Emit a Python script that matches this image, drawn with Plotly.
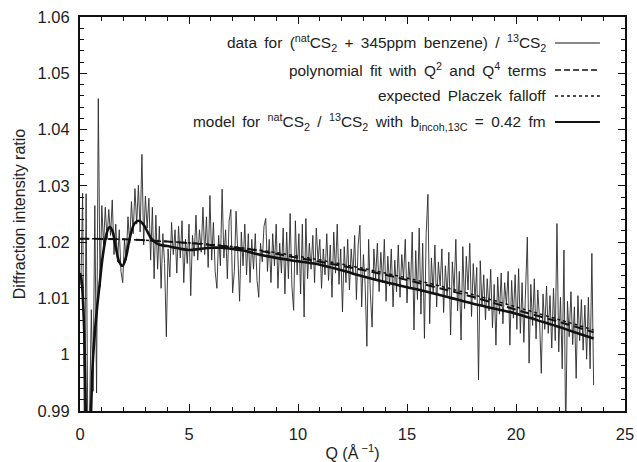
"""Diffraction intensity ratio vs Q, natCS2 / 13CS2."""
import numpy as np
import plotly.graph_objects as go

# measured ratio, sampled every 0.08 1/A from Q = 0.04 to 23.56
ratio_data = [
    1.0125, 1.0287, 0.9850, 1.0286, 0.9850, 0.9900, 1.0080, 0.9935, 1.0265, 0.9932, 1.0455, 1.0120, 1.0265,
    1.0195, 1.0262, 1.0205, 1.0258, 1.0212, 1.0275, 1.0178, 1.0232, 1.0165, 1.0222, 1.0148, 1.0128,
    1.0205, 1.0168, 1.0245, 1.0198, 1.0272, 1.0215, 1.0295, 1.0232, 1.0301, 1.0218, 1.0356, 1.0195, 1.0282,
    1.0225, 1.0278, 1.0168, 1.0262, 1.0135, 1.0248, 1.0152, 1.0228, 1.0118, 1.0215, 1.0162, 1.0032,
    1.0188, 1.0138, 1.0235, 1.0178, 1.0222, 1.0145, 1.0228, 1.0172, 1.0238, 1.0128, 1.0205, 1.0162, 1.0232,
    1.0105, 1.0212, 1.0175, 1.0248, 1.0168, 1.0222, 1.0182, 1.0262, 1.0178, 1.0245, 1.0155, 1.0283,
    1.0168, 1.0235, 1.0148, 1.0118, 1.0212, 1.0158, 1.0294, 1.0172, 1.0222, 1.0135, 1.0238, 1.0258, 1.0110,
    1.0148, 1.0255, 1.0178, 1.0095, 1.0218, 1.0158, 1.0232, 1.0142, 1.0215, 1.0128, 1.0205, 1.0152,
    1.0215, 1.0132, 1.0102, 1.0198, 1.0165, 1.0228, 1.0242, 1.0148, 1.0205, 1.0128, 1.0215, 1.0158, 1.0232,
    1.0118, 1.0198, 1.0145, 1.0225, 1.0108, 1.0218, 1.0135, 1.0251, 1.0122, 1.0079, 1.0238, 1.0142,
    1.0215, 1.0108, 1.0232, 1.0067, 1.0242, 1.0135, 1.0198, 1.0152, 1.0212, 1.0128, 1.0225, 1.0165, 1.0205,
    1.0118, 1.0188, 1.0142, 1.0215, 1.0132, 1.0195, 1.0102, 1.0218, 1.0145, 1.0232, 1.0125, 1.0188,
    1.0076, 1.0192, 1.0128, 1.0205, 1.0115, 1.0188, 1.0142, 1.0212, 1.0098, 1.0195, 1.0230, 1.0085, 1.0178,
    1.0125, 1.0015, 1.0205, 1.0108, 1.0049, 1.0188, 1.0135, 1.0198, 1.0112, 1.0182, 1.0128, 1.0205,
    1.0095, 1.0175, 1.0122, 1.0188, 1.0085, 1.0168, 1.0112, 1.0195, 1.0102, 1.0178, 1.0135, 1.0205, 1.0092,
    1.0165, 1.0118, 1.0218, 1.0044, 1.0185, 1.0098, 1.0225, 1.0072, 1.0198, 1.0029, 1.0215, 1.0285,
    1.0055, 1.0172, 1.0108, 1.0195, 1.0085, 1.0165, 1.0122, 1.0188, 1.0075, 1.0158, 1.0105, 1.0182, 1.0035,
    1.0165, 1.0112, 1.0205, 1.0078, 1.0148, 1.0026, 1.0192, 1.0082, 1.0175, 1.0115, 1.0198, 1.0068,
    1.0162, 1.0098, 1.0155, 0.9955, 1.0167, 1.0085, 1.0142, 1.0062, 1.0135, 1.0078, 1.0152, 1.0048, 1.0125,
    1.0017, 1.0138, 1.0072, 1.0145, 1.0055, 1.0128, 1.0088, 1.0148, 1.0017, 1.0132, 1.0065, 1.0142,
    1.0045, 1.0153, 1.0038, 1.0128, 1.0022, 1.0118, 1.0209, 0.9985, 1.0125, 1.0052, 1.0135, 1.0028, 1.0115,
    1.0062, 0.9967, 1.0108, 1.0045, 1.0122, 1.0038, 1.0105, 1.0012, 1.0118, 1.0025, 1.0233, 1.0005,
    1.0102, 0.9975, 1.0186, 0.9850, 1.0095, 1.0032, 1.0112, 1.0018, 1.0085, 0.9958, 1.0105, 1.0025, 1.0098,
    1.0008, 1.0088, 0.9992, 1.0102, 0.9975, 1.0180, 0.9946,
]
q_data = np.linspace(0.04, 23.56, len(ratio_data))

# polynomial fit (Q^2 and Q^4 terms)
q_poly = [0, 2, 4, 6, 8, 10, 12, 14, 16, 18, 20, 22, 23.56]
ratio_poly = [1.0206, 1.0205, 1.0201, 1.0195, 1.0186, 1.0172, 1.0158, 1.0142, 1.0123, 1.0103, 1.0080, 1.0058, 1.0040]

# expected Placzek falloff
q_placzek = [0, 2, 4, 6, 8, 10, 12, 14, 16, 18, 20, 22, 23.56]
ratio_placzek = [1.0206, 1.0205, 1.0201, 1.0196, 1.0187, 1.0175, 1.0161, 1.0145, 1.0127, 1.0107, 1.0085, 1.0062, 1.0044]

# model with b_incoh,13C = 0.42 fm
q_model = [0, 0.05, 0.1, 0.15, 0.2, 0.25, 0.3, 0.4, 0.45, 0.5, 0.55, 0.6, 0.7, 0.8, 0.9, 1.0, 1.1, 1.2,
           1.3, 1.38, 1.5, 1.65, 1.8, 1.95, 2.1, 2.3, 2.5, 2.7, 2.9, 3.1, 3.3, 3.6, 4.0, 4.5, 5.0, 5.5,
           6.0, 6.5, 7.0, 7.5, 8, 9, 10, 11, 12, 13, 14, 15, 16, 17, 18, 19, 20, 21, 22, 23, 23.56]
ratio_model = [1.0145, 1.0138, 1.0120, 1.0085, 1.0035, 0.9935, 0.9820, 0.9700, 0.9780, 0.9890, 0.9955,
               0.9995, 1.0048, 1.0090, 1.0125, 1.0162, 1.0190, 1.0212, 1.0224, 1.0227, 1.0218, 1.0190,
               1.0165, 1.0158, 1.0172, 1.0210, 1.0233, 1.0238, 1.0232, 1.0218, 1.0205, 1.0196, 1.0193,
               1.0189, 1.0186, 1.0188, 1.0190, 1.0190, 1.0188, 1.0185, 1.0180, 1.0172, 1.0166, 1.0160,
               1.0150, 1.0139, 1.0129, 1.0120, 1.0111, 1.0101, 1.0091, 1.0082, 1.0073, 1.0061, 1.0049,
               1.0036, 1.0029]

ytick_vals = [0.99, 1.0, 1.01, 1.02, 1.03, 1.04, 1.05, 1.06]
ytick_text = ['0.99', '1', '1.01', '1.02', '1.03', '1.04', '1.05', '1.06']

SP = ' \u2009'  # gnuplot key text has wide word spacing
legend_labels = [
    SP.join(['data', 'for', '(<sup>nat</sup>CS<sub>2</sub>', '+', '345ppm', 'benzene)', '/',
             '<sup>13</sup>CS<sub>2</sub>']),
    SP.join(['polynomial', 'fit', 'with', 'Q<sup>2</sup>', 'and', 'Q<sup>4</sup>', 'terms']),
    SP.join(['expected', 'Placzek', 'falloff']),
    SP.join(['model', 'for', '<sup>nat</sup>CS<sub>2</sub>', '/', '<sup>13</sup>CS<sub>2</sub>', 'with',
             'b<sub>incoh,13C</sub>', '=', '0.42', 'fm']),
]

FONT = 'Liberation Sans, Arial, Helvetica, sans-serif'
TXT = '#222'

fig = go.Figure()
fig.add_trace(go.Scatter(x=q_data, y=ratio_data, mode='lines',
                         line=dict(color='#2a2a2a', width=0.9)))
fig.add_trace(go.Scatter(x=q_poly, y=ratio_poly, mode='lines', line_shape='spline',
                         line=dict(color='#111', width=2, dash='9px,5px')))
fig.add_trace(go.Scatter(x=q_placzek, y=ratio_placzek, mode='lines', line_shape='spline',
                         line=dict(color='#111', width=1.5, dash='3px,3px')))
fig.add_trace(go.Scatter(x=q_model, y=ratio_model, mode='lines', line_shape='spline',
                         line=dict(color='#111', width=2.6)))

# gnuplot-style key: right-aligned text, sample line to the right
sample_styles = [
    dict(color='#111', width=1),
    dict(color='#111', width=1.6, dash='6px,3px'),
    dict(color='#111', width=1.3, dash='3px,3px'),
    dict(color='#111', width=2.2),
]
key_y = [0.934, 0.8655, 0.7995, 0.7335]
for label, style, ky in zip(legend_labels, sample_styles, key_y):
    fig.add_annotation(x=0.8587, y=ky, xref='paper', yref='paper', text=label, showarrow=False,
                       xanchor='right', yanchor='middle', font=dict(size=15.4, color=TXT, family=FONT))
    fig.add_shape(type='line', xref='paper', yref='paper', x0=0.8716, x1=0.954, y0=ky, y1=ky, line=style)

axis_common = dict(showgrid=False, zeroline=False, showline=True, linecolor='#111', linewidth=2,
                   mirror='allticks', ticks='inside', ticklen=7, tickwidth=1.3, tickcolor='#111',
                   automargin=False, ticklabeloverflow='allow',
                   tickfont=dict(size=16.5, color=TXT, family=FONT))

fig.update_xaxes(range=[0, 25], tickvals=[0, 5, 10, 15, 20, 25], **axis_common,
                 ticklabelstandoff=7,
                 minor=dict(dtick=1, ticks='inside', ticklen=4, tickcolor='#111', tickwidth=1),
                 title=dict(text='Q (Å<sup> −1</sup>)', font=dict(size=16, color=TXT, family=FONT),
                            standoff=12))
fig.update_yaxes(range=[0.99, 1.06], tickvals=ytick_vals, ticktext=ytick_text, **axis_common,
                 ticklabelstandoff=5,
                 minor=dict(dtick=0.002, tick0=0.99, ticks='inside', ticklen=4, tickcolor='#111', tickwidth=1),
                 title=dict(text='Diffraction intensity ratio', font=dict(size=16, color=TXT, family=FONT),
                            standoff=8))

fig.update_layout(width=637, height=462, showlegend=False,
                  margin=dict(l=80, r=12, t=17, b=51),
                  plot_bgcolor='white', paper_bgcolor='white',
                  font=dict(family=FONT))

# drop the default page margin so the figure fills the window exactly
fig.write_html('out.html', config={'displayModeBar': False},
               post_script="document.body.style.margin='0';document.body.style.overflow='hidden';")
